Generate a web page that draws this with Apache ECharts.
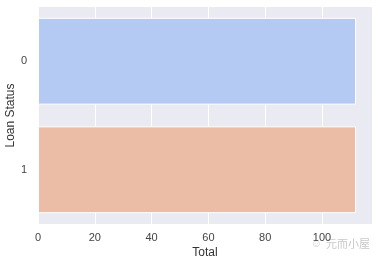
<!DOCTYPE html>
<html><head><meta charset="utf-8">
<script src="https://cdn.jsdelivr.net/npm/echarts@6/dist/echarts.min.js"></script>
<style>html,body{margin:0;padding:0;background:#fff}#c{width:378px;height:265px}</style>
</head><body><div id="c"></div>
<script>
const categories = ['0', '1'];
const totals = [112, 112];
const barColors = ['#b5caf2', '#ebbda7'];
const xTicks = [0, 20, 40, 60, 80, 100];

const chart = echarts.init(document.getElementById('c'), null, {renderer: 'canvas'});
const font = 'Liberation Sans, Arial, sans-serif';
chart.setOption({
  animation: false,
  grid: {left: 38, top: 7, right: 6, bottom: 41, show: true, backgroundColor: '#eaeaf2', borderWidth: 0,
         containLabel: false, outerBoundsMode: 'none'},
  xAxis: {
    type: 'value', min: 0, max: 117.6, interval: 20,
    name: 'Total', nameLocation: 'middle', nameGap: 23, nameMoveOverlap: false,
    nameTextStyle: {fontFamily: font, fontSize: 12, color: '#333'},
    axisLine: {show: false}, axisTick: {show: false},
    axisLabel: {fontFamily: font, fontSize: 11, color: '#444', margin: 8,
      formatter: v => xTicks.includes(v) ? String(v) : ''},
    splitLine: {show: true, lineStyle: {color: '#ffffff', width: 1}}
  },
  yAxis: {
    type: 'category', data: categories, inverse: true,
    name: 'Loan Status', nameLocation: 'middle', nameGap: 21, nameRotate: 90, nameMoveOverlap: false,
    nameTextStyle: {fontFamily: font, fontSize: 12, color: '#333'},
    axisLine: {show: false}, axisTick: {show: false},
    axisLabel: {fontFamily: font, fontSize: 11, color: '#444', margin: 11},
    splitLine: {show: false}
  },
  series: [{
    type: 'bar', barCategoryGap: '20%',
    data: totals.map((v, i) => ({value: v, itemStyle: {color: barColors[i]}})),
    itemStyle: {borderColor: '#ffffff', borderWidth: 1}
  }],
  graphic: [{
    type: 'text', right: 8, bottom: 16,
    style: {text: '元而小屋', fontFamily: 'Noto Sans CJK SC', fontSize: 11, fill: '#c8c8c8'}
  }, {
    type: 'text', right: 56, bottom: 16,
    style: {text: '☺', fontFamily: font, fontSize: 11, fill: '#d0d0d0'}
  }]
});
</script></body></html>
